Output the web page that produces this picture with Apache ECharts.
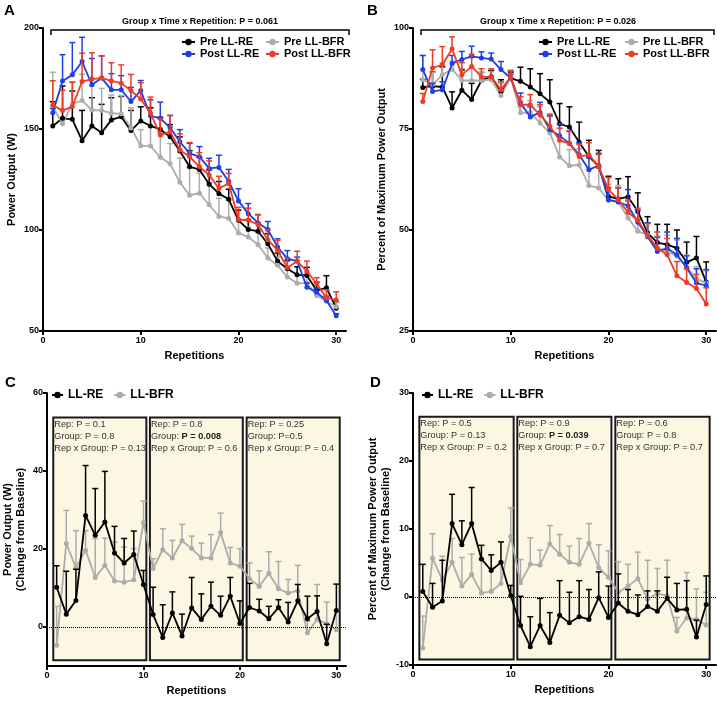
<!DOCTYPE html>
<html>
<head>
<meta charset="utf-8">
<title>Power output by repetition</title>
<script src="https://cdn.jsdelivr.net/npm/echarts@6/dist/echarts.min.js"></script>
<style>
html,body{margin:0;padding:0;background:#fff;}
#main{width:717px;height:701px;}
</style>
</head>
<body>
<div id="main"></div>
<script>
// repetitions 1..30
var reps = [1,2,3,4,5,6,7,8,9,10,11,12,13,14,15,16,17,18,19,20,21,22,23,24,25,26,27,28,29,30];

// A - power output (W), mean and upper error
var preRE_A = [151.5,155.3,154.8,144.2,151.5,148.2,154.5,156.1,149.2,154,151.5,149.8,146.2,139.1,131.3,130,122.7,118,115.2,104.8,100.2,99.4,93.2,84.6,80.8,77.8,77.5,70.1,71.4,61.3];
var preRE_A_err = [12,16,14,15,14,14,11,10,10,7,9,6,6,7,8,6,7,6,5,5,5,4,5,4,4,4,4,4,6,3];
var preBFR_A = [161.1,152.6,162.4,164.1,159.4,159.1,157.8,157.5,150.5,141.7,141.6,136,132.8,123.6,117.2,118.2,112.5,106.7,105.7,98.5,96.5,92.7,86.1,82.5,76.7,73.7,73.7,67.6,64.7,62];
var preBFR_A_err = [17,3,11,13,12,11,9,9,10,8,10,12,10,12,14,10,11,9,9,7,5,6,5,4,4,4,5,3,3,2];
var postRE_A = [158.1,173.8,176.8,183.4,171.9,175.2,169.4,169.4,163.6,169,156.5,155.3,150.7,143.7,137.9,136.3,130.5,131,124,114.4,108.1,103.5,100.2,91.6,85.8,84.6,71.7,69.2,65.1,57.6];
var postRE_A_err = [2,13,16,12,13,11,8,7,7,5,8,8,6,6,5,5,5,6,6,6,5,4,4,4,4,2,2,2,2,1];
var postBFR_A = [161.9,159.1,161.1,173.5,174.7,175.2,173.8,172.7,169,164.9,157.8,147,148.7,139.6,136.3,131.3,127.2,120.6,123,105.2,104.8,102.7,95.2,89.9,81.3,84.5,79.6,73.4,66.4,65.4];
var postBFR_A_err = [12,10,12,14,13,11,9,9,8,8,8,8,8,8,7,7,7,6,5,6,6,5,5,5,5,5,5,3,4,4];

// B - percent of maximum power output
var preRE_B = [85.3,85.6,85.4,80.2,84.6,82.3,87,88,84.2,87.6,86.8,85.4,83.7,81.7,76.3,75.5,71.7,68.2,65.7,58.3,57.7,58.2,54.6,49.3,46.9,46.4,45.5,42,43.1,37.1];
var preRE_B_err = [2,3.5,5,4,5,4,2,1.5,3,1.5,3.5,4.5,5,5.5,5,5,5,4,4,5,5,5,4.6,4,4.5,5,4.5,5,5.3,5];
var preBFR_B = [87.2,86,88.4,89.8,87,87,87,87.2,83.3,87.6,79,79,76.5,74,68.1,65.9,66.1,61,60.4,57.3,57,53,49.7,48.8,45.5,44.7,43.5,40.8,37.9,36.9];
var preBFR_B_err = [6,3,3,2,3,3,2,2,3,2,3,3,4,4,4,4,4,4,5,4,4,4,3,3,3,4,4,3,3,3];
var postRE_B = [89.7,84.3,84.7,91.2,92.2,93,92.6,92.3,89.7,87.6,81.4,78,79.1,74.8,73.3,71.5,68.6,64.9,66,57.5,56.9,56,51.9,48.3,44.7,45.5,43.9,40.6,36.9,36.2];
var postRE_B_err = [3.5,2,2,2,2,2.5,1.5,1.5,2,1,2.5,2.5,2.5,3.5,3,3,3,3,3,3,3.5,4,3,3.5,3.5,4,4,3,3.5,4];
var postBFR_B = [81.8,90.1,90.9,94.8,88.4,90.5,87.9,87.9,84.7,87.9,81,81,78.5,75.7,72.2,71.4,68.2,68.6,65.7,60,57.5,54.4,52.4,48.6,45.5,43.9,38.7,37,35.5,31.7];
var postBFR_B_err = [2,4.5,4.5,3,3,3,2,2,2,1.5,2,2.5,2.5,3,3,3,3,3,3,3,3,3,3,3,4,4,3.5,3.5,3.5,4];

// C - change from baseline (W)
var RE_C = [10.2,3.3,6.8,28.6,23.5,26.9,19,16.4,18.6,10.9,3.2,-2.7,3.6,-2.3,4.9,1.9,5.3,3,7.9,0.9,5,4.1,2.1,5,1.3,6.7,2.1,4,-4.3,4.2];
var RE_C_err = [5.5,11,8,12.8,12,13,6.8,6.3,6,3.6,7,8.4,5.4,5.6,7.8,6.6,6.2,4.9,4.8,5.8,6.2,3,3.2,2,5,4.2,5.8,4,5,6.8];
var BFR_C = [-4.7,21.4,15.2,19.7,12.7,15.8,11.8,11.5,12.1,26.7,15,19.8,17.7,22.1,20.1,17.7,17.7,24.2,16.4,15.6,12.4,10.4,13.8,9.8,8.7,9.3,-1.5,1.9,0.9,-0.7];
var BFR_C_err = [10,8.5,9.5,5,10,7,10,9,8,5.6,2.5,5.4,4.5,4.2,3.2,3.8,6,5,4,4.5,4,4,5.5,7,3.5,6.5,3,9,5.5,5];

// D - change from baseline (% of max)
var RE_D = [0.8,-1.5,-0.6,10.8,7.7,10.8,5.6,3.9,5.1,0.2,-4.2,-7.3,-4.2,-6.7,-2.7,-3.8,-2.9,-3.3,-0.1,-3,-0.9,-2.1,-2.6,-1.4,-2.1,-0.2,-1.9,-1.8,-5.9,-1.1];
var RE_D_err = [4,3.5,6,4.3,3.5,5.3,2,2.3,3,1.5,4.3,4.4,4,4.4,5.1,4.5,5.3,4.4,3.8,4.6,4.3,3.2,2.9,2.3,3,3.1,3.9,4.2,2.5,4.2];
var BFR_D = [-7.5,5.7,2.5,5.1,1.6,3.3,0.6,0.8,2,8.9,2.1,4.8,4.7,7.8,6.3,5.1,4.8,7.9,4.3,2.9,0.7,1.6,2.7,-0.3,0.5,0.2,-5,-3.1,-3.3,-4.1];
var BFR_D_err = [4.7,3.6,3.5,3.5,4.2,3,5,3.5,3,4.2,3.4,3.9,2.2,2.7,2.9,2.4,3.8,2.9,3.4,3.9,4.5,3.2,3.9,5.7,3.7,5.2,2,6.7,4.5,4.8];

// tick labels
var xTicks = [0,10,20,30];
var yTicksA = [50,100,150,200];
var yTicksB = [25,50,75,100];
var yTicksC = [0,20,40,60];
var yTicksD = [-10,0,10,20,30];

// stats boxes (blocks of 10 reps)
var blockStart = [0.65,10.67,20.7];
var blockEnd = [10.3,20.3,30.35];
var statsC = [
  ['Rep: P = 0.1','Group: P = 0.8','Rep x Group: P = 0.13'],
  ['Rep: P = 0.8','Group: {bb|P = 0.008}','Rep x Group: P = 0.6'],
  ['Rep: P = 0.25','Group: P=0.5','Rep x Group: P = 0.4']
];
var statsD = [
  ['Rep: P = 0.5','Group: P = 0.13','Rep x Group: P = 0.2'],
  ['Rep: P = 0.9','Group: {bb|P = 0.039}','Rep x Group: P = 0.7'],
  ['Rep: P = 0.6','Group: P = 0.8','Rep x Group: P = 0.7']
];

var FONT = '"Liberation Sans", Arial, sans-serif';
var BLACK = '#000000', GRAY = '#acacac', BLUE = '#1d3fe6', RED = '#ee3b25';

function pairs(vals){
  return reps.map(function(r,i){ return [r, vals[i]]; });
}

function xAx(gi){
  return {
    gridIndex: gi, type: 'value', min: 0, max: 31,
    axisLine: {onZero: false, lineStyle: {color: '#000', width: 2}},
    axisTick: {length: 4, customValues: xTicks, lineStyle: {color: '#000', width: 2}},
    axisLabel: {customValues: xTicks, fontSize: 9, fontWeight: 'bold', color: '#000', margin: 5, fontFamily: FONT},
    splitLine: {show: false},
    name: 'Repetitions', nameLocation: 'middle', nameGap: 19,
    nameTextStyle: {fontSize: 11, fontWeight: 'bold', color: '#000', fontFamily: FONT}
  };
}

function yAx(gi, mn, mx, ticks, name, gap){
  return {
    gridIndex: gi, type: 'value', min: mn, max: mx,
    axisLine: {onZero: false, lineStyle: {color: '#000', width: 2}},
    axisTick: {length: 4, customValues: ticks, lineStyle: {color: '#000', width: 2}},
    axisLabel: {customValues: ticks, fontSize: 9, fontWeight: 'bold', color: '#000', margin: 4, fontFamily: FONT},
    splitLine: {show: false},
    name: name, nameLocation: 'middle', nameGap: gap,
    nameTextStyle: {fontSize: 11, fontWeight: 'bold', color: '#000', fontFamily: FONT, lineHeight: 13}
  };
}

function lineSeries(name, gi, vals, color, z){
  return {
    name: name, type: 'line', xAxisIndex: gi, yAxisIndex: gi, data: pairs(vals),
    symbol: 'circle', symbolSize: 5, z: z,
    lineStyle: {color: color, width: 1.8}, itemStyle: {color: color}
  };
}

// upper error bars with caps
function errSeries(gi, vals, errs, color, z){
  return {
    type: 'custom', xAxisIndex: gi, yAxisIndex: gi, z: z, silent: true,
    data: reps.map(function(r,i){ return [r, vals[i], vals[i] + errs[i]]; }),
    renderItem: function(params, api){
      var p0 = api.coord([api.value(0), api.value(1)]);
      var p1 = api.coord([api.value(0), api.value(2)]);
      return {type: 'group', children: [
        {type: 'line', shape: {x1: p0[0], y1: p0[1], x2: p1[0], y2: p1[1]}, style: {stroke: color, lineWidth: 1.5}},
        {type: 'line', shape: {x1: p1[0] - 3, y1: p1[1], x2: p1[0] + 3, y2: p1[1]}, style: {stroke: color, lineWidth: 1.5}}
      ]};
    }
  };
}

// cream boxes + dotted zero line
function boxSeries(gi, yLo, yHi, stats){
  var areas = [];
  for (var i = 0; i < 3; i++) {
    areas.push([
      {name: stats[i].join('\n'), xAxis: blockStart[i], yAxis: yLo},
      {xAxis: blockEnd[i], yAxis: yHi}
    ]);
  }
  return {
    type: 'line', xAxisIndex: gi, yAxisIndex: gi, data: [], z: 1, silent: true,
    markArea: {
      silent: true,
      itemStyle: {color: '#fcf7e2', borderColor: '#1a1a1a', borderWidth: 2},
      label: {
        show: true, position: 'insideTopLeft', distance: 2,
        formatter: function(p){ return p.name; },
        fontSize: 9.2, lineHeight: 12, color: '#333', fontFamily: FONT,
        rich: {bb: {fontSize: 9.2, fontWeight: 'bold', color: '#222', fontFamily: FONT}}
      },
      data: areas
    },
    markLine: {
      silent: true, symbol: ['none','none'], label: {show: false},
      lineStyle: {type: 'dotted', color: '#000', width: 1},
      data: [{yAxis: 0}]
    }
  };
}

function legendBox(left, top, names, orient, fs, iw, gap){
  return {
    left: left, top: top, orient: orient, itemGap: gap, itemWidth: iw, itemHeight: 8,
    padding: 0, selectedMode: false, data: names,
    textStyle: {fontSize: fs, fontWeight: 'bold', color: '#000', fontFamily: FONT, lineHeight: 12}
  };
}

function panelText(txt, x, y, size, weight, align){
  return {type: 'text', x: x, y: y, silent: true,
    style: {text: txt, fontSize: size, fontWeight: weight, fontFamily: FONT, fill: '#000',
      align: align || 'left', verticalAlign: 'middle'}};
}

function bracket(x1, x2){
  return {type: 'polyline', silent: true,
    shape: {points: [[x1, 35], [x1, 30], [x2, 30], [x2, 35]]},
    style: {stroke: '#000', lineWidth: 1.5, fill: null}};
}

var option = {
  animation: false,
  backgroundColor: '#fff',
  grid: [
    {left: 43, top: 28, width: 303, height: 303},
    {left: 413, top: 28, width: 303, height: 303},
    {left: 43, top: 393, width: 303, height: 273},
    {left: 413, top: 393, width: 303, height: 272}
  ],
  xAxis: [xAx(0), xAx(1), xAx(2), xAx(3)],
  yAxis: [
    yAx(0, 50, 200, yTicksA, 'Power Output (W)', 25),
    yAx(1, 25, 100, yTicksB, 'Percent of Maximum Power Output', 25),
    yAx(2, -10, 60, yTicksC, 'Power Output (W)\n(Change from Baseline)', 20),
    yAx(3, -10, 30, yTicksD, 'Percent of Maximum Power Output\n(Change from Baseline)', 21)
  ],
  legend: [
    legendBox(181, 36, ['Pre LL-RE','Post LL-RE'], 'vertical', 11, 13, 0),
    legendBox(265, 36, ['Pre LL-BFR','Post LL-BFR'], 'vertical', 11, 13, 0),
    legendBox(538, 36, ['Pre LL-RE','Post LL-RE'], 'vertical', 11, 13, 0),
    legendBox(624, 36, ['Pre LL-BFR','Post LL-BFR'], 'vertical', 11, 13, 0),
    legendBox(51, 389, ['LL-RE','LL-BFR'], 'horizontal', 12, 11, 10),
    legendBox(421, 389, ['LL-RE','LL-BFR'], 'horizontal', 12, 11, 10)
  ],
  graphic: [
    panelText('A', 4, 11, 15, 'bold'),
    panelText('B', 367, 11, 15, 'bold'),
    panelText('C', 5, 383, 15, 'bold'),
    panelText('D', 370, 383, 15, 'bold'),
    bracket(51, 349),
    bracket(421, 714),
    panelText('Group x Time x Repetition: P = 0.061', 200, 22, 9, 'bold', 'center'),
    panelText('Group x Time x Repetition: P = 0.026', 558, 22, 9, 'bold', 'center')
  ],
  series: [
    errSeries(0, preRE_A, preRE_A_err, BLACK, 2),
    lineSeries('Pre LL-RE', 0, preRE_A, BLACK, 3),
    errSeries(0, preBFR_A, preBFR_A_err, GRAY, 2),
    lineSeries('Pre LL-BFR', 0, preBFR_A, GRAY, 3),
    errSeries(0, postRE_A, postRE_A_err, BLUE, 4),
    lineSeries('Post LL-RE', 0, postRE_A, BLUE, 5),
    errSeries(0, postBFR_A, postBFR_A_err, RED, 6),
    lineSeries('Post LL-BFR', 0, postBFR_A, RED, 7),

    errSeries(1, preRE_B, preRE_B_err, BLACK, 2),
    lineSeries('Pre LL-RE', 1, preRE_B, BLACK, 3),
    errSeries(1, preBFR_B, preBFR_B_err, GRAY, 2),
    lineSeries('Pre LL-BFR', 1, preBFR_B, GRAY, 3),
    errSeries(1, postRE_B, postRE_B_err, BLUE, 4),
    lineSeries('Post LL-RE', 1, postRE_B, BLUE, 5),
    errSeries(1, postBFR_B, postBFR_B_err, RED, 6),
    lineSeries('Post LL-BFR', 1, postBFR_B, RED, 7),

    boxSeries(2, -8.5, 53.7, statsC),
    errSeries(2, BFR_C, BFR_C_err, GRAY, 2),
    lineSeries('LL-BFR', 2, BFR_C, GRAY, 3),
    errSeries(2, RE_C, RE_C_err, BLACK, 4),
    lineSeries('LL-RE', 2, RE_C, BLACK, 5),

    boxSeries(3, -9.2, 26.5, statsD),
    errSeries(3, BFR_D, BFR_D_err, GRAY, 2),
    lineSeries('LL-BFR', 3, BFR_D, GRAY, 3),
    errSeries(3, RE_D, RE_D_err, BLACK, 4),
    lineSeries('LL-RE', 3, RE_D, BLACK, 5)
  ]
};

var chart = echarts.init(document.getElementById('main'));
chart.setOption(option);
</script>
</body>
</html>
